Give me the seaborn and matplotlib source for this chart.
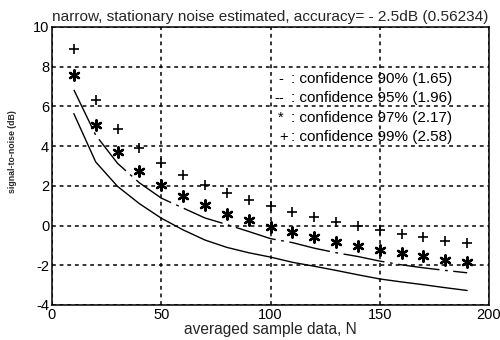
import numpy as np
import pandas as pd
import matplotlib
matplotlib.use("Agg")
import matplotlib.pyplot as plt
import seaborn as sns

N = [10, 20, 30, 40, 50, 60, 70, 80, 90, 100, 110, 120, 130, 140, 150, 160, 170, 180, 190]
conf90 = [5.63, 3.2, 1.97, 1.1, 0.37, -0.22, -0.73, -1.1, -1.37, -1.59, -1.85, -2.05, -2.26, -2.48, -2.69, -2.84, -2.98, -3.13, -3.27]
conf95 = [6.83, 4.55, 3.13, 2.15, 1.38, 0.88, 0.38, 0.05, -0.3, -0.66, -0.86, -1.14, -1.37, -1.56, -1.79, -1.98, -2.13, -2.26, -2.38]
conf97 = [7.6, 5.07, 3.7, 2.72, 2.05, 1.47, 1.02, 0.6, 0.28, -0.08, -0.33, -0.56, -0.81, -1.01, -1.22, -1.36, -1.55, -1.72, -1.83]
conf99 = [8.9, 6.3, 4.86, 3.9, 3.14, 2.55, 2.05, 1.66, 1.29, 0.96, 0.67, 0.42, 0.17, -0.02, -0.25, -0.42, -0.6, -0.77, -0.9]
legend_symbols = ["-", "--", "*", "+"]
legend_labels = [": confidence 90% (1.65)",
                 ": confidence 95% (1.96)",
                 ": confidence 97% (2.17)",
                 ": confidence 99% (2.58)"]
title = "narrow, stationary noise estimated, accuracy= - 2.5dB (0.56234)"
xlabel = "averaged sample data, N"
ylabel = "signal-to-noise (dB)"

sns.set_style("white")
plt.rcParams['font.family'] = ['Liberation Sans', 'DejaVu Sans']
plt.rcParams['axes.unicode_minus'] = False

df = pd.DataFrame({"N": N, "c90": conf90, "c95": conf95, "c97": conf97, "c99": conf99})

fig = plt.figure(figsize=(5.0, 3.4), dpi=100)
ax = fig.add_axes([0.104, 0.103, 0.874, 0.818])

sns.lineplot(data=df, x="N", y="c90", ax=ax, color="black", linewidth=1.0)
sns.lineplot(data=df, x="N", y="c95", ax=ax, color="black", linewidth=1.0)
ax.lines[-1].set_dashes((30, 4, 2, 4))
sns.scatterplot(data=df, x="N", y="c97", ax=ax, color="black", marker=(6, 2, 0), s=55, linewidth=1.7)
sns.scatterplot(data=df, x="N", y="c99", ax=ax, color="black", marker="+", s=60, linewidth=1.2)

ax.set_xlim(0, 200)
ax.set_ylim(-4, 10)
ax.set_xticks([0, 50, 100, 150, 200])
ax.set_yticks([-4, -2, 0, 2, 4, 6, 8, 10])
ax.grid(True, color="black", linestyle=(0, (2.5, 2.5)), linewidth=1.1)
for s in ax.spines.values():
    s.set_color("black")
    s.set_linewidth(1.1)
ax.tick_params(direction="in", length=3, colors="black", labelsize=10.5, pad=2)
ax.set_xlabel(xlabel, fontsize=11.2, labelpad=0)
ax.set_ylabel(ylabel, fontsize=6.3, fontweight="bold")
ax.yaxis.set_label_coords(-0.079, 0.55)
ax.set_title(title, fontsize=11.1, pad=4)

ys = [7.39, 6.4, 5.43, 4.47]
sym_x = [103.5, 102.0, 103.5, 103.8]
for sym, lab, y, sx in zip(legend_symbols, legend_labels, ys, sym_x):
    ax.text(sx, y, sym, fontsize=10.5, va="center", ha="left", color="black")
    ax.text(109.5, y, lab, fontsize=11, va="center", ha="left", color="black")

fig.savefig("out.png", dpi=100)
